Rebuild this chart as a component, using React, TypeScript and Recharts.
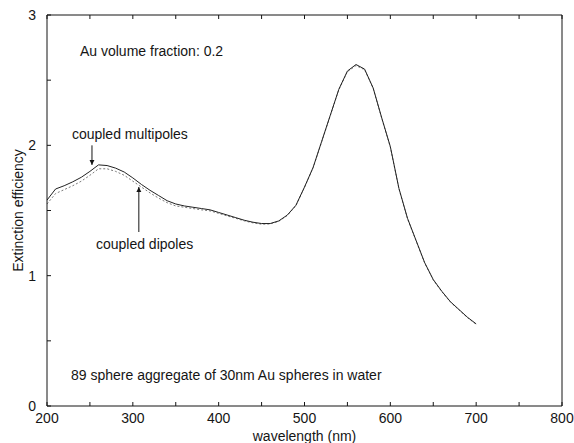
import React from 'react';
import { LineChart, Line, XAxis, YAxis, ReferenceLine, ReferenceDot, Label } from 'recharts';

const wavelengths = [
  200, 210, 220, 230, 240, 250, 260, 270, 280, 290,
  300, 310, 320, 330, 340, 350, 360, 370, 380, 390,
  400, 410, 420, 430, 440, 450, 460, 470, 480, 490,
  500, 510, 520, 530, 540, 550, 560, 570, 580, 590,
  600, 610, 620, 630, 640, 650, 660, 670, 680, 690, 700,
];

const multipoles = [
  1.58, 1.665, 1.69, 1.72, 1.755, 1.8, 1.85, 1.845, 1.825, 1.795,
  1.75, 1.7, 1.655, 1.615, 1.575, 1.55, 1.535, 1.525, 1.515, 1.505,
  1.485, 1.465, 1.445, 1.425, 1.41, 1.4, 1.4, 1.42, 1.465, 1.54,
  1.68, 1.83, 2.03, 2.23, 2.43, 2.57, 2.62, 2.585, 2.44, 2.21,
  1.99, 1.67, 1.44, 1.27, 1.1, 0.97, 0.88, 0.8, 0.74, 0.68, 0.63,
];

const dipoles = [
  1.55, 1.63, 1.66, 1.69, 1.725, 1.77, 1.82, 1.82, 1.8, 1.77,
  1.725, 1.68, 1.635, 1.595, 1.56, 1.535, 1.525, 1.515, 1.505, 1.497,
  1.478, 1.458, 1.44, 1.42, 1.405, 1.395, 1.397, 1.417, 1.462, 1.537,
  1.677, 1.827, 2.027, 2.227, 2.427, 2.565, 2.612, 2.58, 2.437, 2.207,
  1.987, 1.667, 1.437, 1.267, 1.097, 0.967, 0.877, 0.797, 0.737, 0.677, 0.627,
];

const xTicks = [200, 250, 300, 350, 400, 450, 500, 550, 600, 650, 700, 750, 800];
const yTicks = [0, 0.5, 1, 1.5, 2, 2.5, 3];

const data = wavelengths.map((w, i) => ({ w, multi: multipoles[i], dip: dipoles[i] }));

const ink = '#151515';
const font = '"Liberation Sans", Arial, Helvetica, sans-serif';
const noLabel = () => '';

export default function App() {
  return (
    <div style={{ position: 'absolute', left: 0, top: 0, width: 574, height: 443, background: '#fff', fontFamily: font }}>
      <LineChart width={574} height={443} data={data} margin={{ top: 14, right: 11, bottom: 0, left: 7 }}>
        <defs>
          <marker id="arrowHead" viewBox="0 0 10 10" refX="10" refY="5" markerWidth="5" markerHeight="7" orient="auto">
            <path d="M0,0 L10,5 L0,10 z" fill={ink} />
          </marker>
        </defs>
        <XAxis
          dataKey="w"
          type="number"
          domain={[200, 800]}
          ticks={xTicks}
          tickFormatter={(v: number) => (v % 100 === 0 ? String(v) : '')}
          height={37}
          tickSize={-4}
          tickMargin={11}
          stroke={ink}
          tick={{ fontSize: 14, fill: ink }}
        >
          <Label value="wavelength (nm)" position="insideBottom" offset={2} style={{ fontSize: 14, fill: ink }} />
        </XAxis>
        <XAxis
          xAxisId="top"
          orientation="top"
          dataKey="w"
          type="number"
          domain={[200, 800]}
          ticks={xTicks}
          tickFormatter={noLabel}
          height={1}
          tickSize={-4}
          stroke={ink}
        />
        <YAxis
          type="number"
          domain={[0, 3]}
          ticks={yTicks}
          tickFormatter={(v: number) => (v % 1 === 0 ? String(v) : '')}
          width={40}
          tickSize={-4}
          tickMargin={15}
          stroke={ink}
          tick={{ fontSize: 14, fill: ink }}
        >
          <Label
            value="Extinction efficiency"
            angle={-90}
            position="insideLeft"
            offset={11}
            style={{ fontSize: 14, fill: ink, textAnchor: 'middle' }}
          />
        </YAxis>
        <YAxis
          yAxisId="right"
          orientation="right"
          type="number"
          domain={[0, 3]}
          ticks={yTicks}
          tickFormatter={noLabel}
          width={1}
          tickSize={-4}
          stroke={ink}
        />
        <Line dataKey="dip" type="linear" stroke="#7a7a7a" strokeWidth={1} strokeDasharray="2 2" dot={false} isAnimationActive={false} />
        <Line dataKey="multi" type="linear" stroke="#222" strokeWidth={1} dot={false} isAnimationActive={false} />

        <ReferenceLine segment={[{ x: 252.4, y: 2.0 }, { x: 252.4, y: 1.85 }]} stroke={ink} markerEnd="url(#arrowHead)" />
        <ReferenceLine segment={[{ x: 307, y: 1.335 }, { x: 307, y: 1.68 }]} stroke={ink} markerEnd="url(#arrowHead)" />

        <ReferenceDot x={238.4} y={2.72} r={0} stroke="none" fill="none">
          <Label value="Au volume fraction: 0.2" position="right" offset={0} style={{ fontSize: 14, fill: ink }} />
        </ReferenceDot>
        <ReferenceDot x={229} y={2.087} r={0} stroke="none" fill="none">
          <Label value="coupled multipoles" position="right" offset={0} style={{ fontSize: 14, fill: ink }} />
        </ReferenceDot>
        <ReferenceDot x={257} y={1.243} r={0} stroke="none" fill="none">
          <Label value="coupled dipoles" position="right" offset={0} style={{ fontSize: 14, fill: ink }} />
        </ReferenceDot>
        <ReferenceDot x={228} y={0.238} r={0} stroke="none" fill="none">
          <Label value="89 sphere aggregate of 30nm Au spheres in water" position="right" offset={0} style={{ fontSize: 14, fill: ink }} />
        </ReferenceDot>
      </LineChart>
    </div>
  );
}
